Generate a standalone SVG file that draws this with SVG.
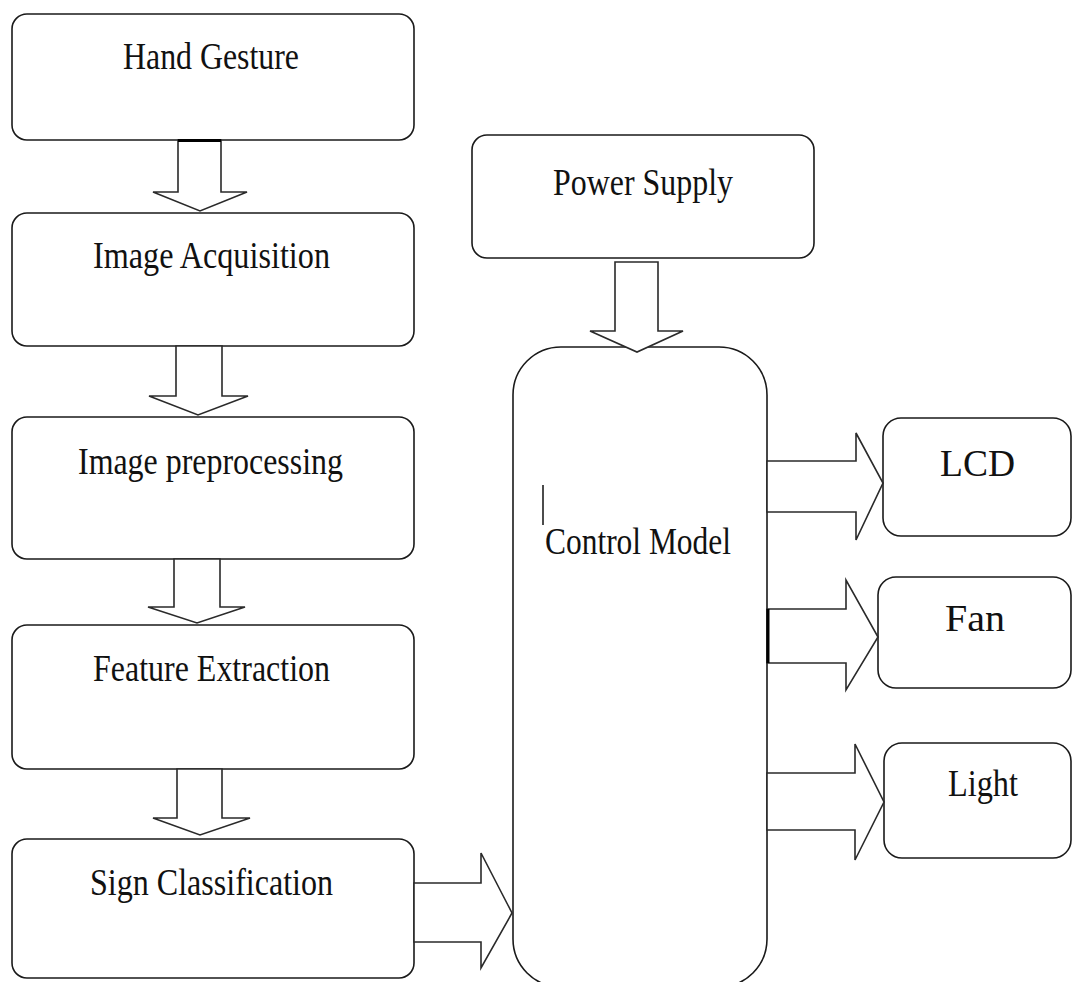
<svg xmlns="http://www.w3.org/2000/svg" width="1073" height="982" viewBox="0 0 1073 982">
  <style>
    .box { fill: #ffffff; stroke: #1a1a1a; stroke-width: 1.6; }
    .arrow { fill: #ffffff; stroke: #2a2a2a; stroke-width: 1.6; stroke-linejoin: miter; }
    .lbl { font-family: "Liberation Serif", "Times New Roman", serif; font-size: 38px; fill: #111111; }
  </style>
  <rect x="0" y="0" width="1073" height="982" fill="#ffffff"/>

  <g id="node-hand-gesture">
    <rect class="box" x="12" y="14" width="402" height="126" rx="15"/>
    <text class="lbl" x="123" y="69" textLength="176" lengthAdjust="spacingAndGlyphs">Hand Gesture</text>
  </g>
  <g id="node-image-acquisition">
    <rect class="box" x="12" y="213" width="402" height="133" rx="15"/>
    <text class="lbl" x="93" y="268" textLength="237" lengthAdjust="spacingAndGlyphs">Image Acquisition</text>
  </g>
  <g id="node-image-preprocessing">
    <rect class="box" x="12" y="417" width="402" height="142" rx="15"/>
    <text class="lbl" x="78" y="474" textLength="265" lengthAdjust="spacingAndGlyphs">Image preprocessing</text>
  </g>
  <g id="node-feature-extraction">
    <rect class="box" x="12" y="625" width="402" height="144" rx="15"/>
    <text class="lbl" x="93" y="681" textLength="237" lengthAdjust="spacingAndGlyphs">Feature Extraction</text>
  </g>
  <g id="node-sign-classification">
    <rect class="box" x="12" y="839" width="402" height="139" rx="15"/>
    <text class="lbl" x="90" y="895" textLength="243" lengthAdjust="spacingAndGlyphs">Sign Classification</text>
  </g>
  <g id="node-power-supply">
    <rect class="box" x="472" y="135" width="342" height="123" rx="15"/>
    <text class="lbl" x="553" y="195" textLength="180" lengthAdjust="spacingAndGlyphs">Power Supply</text>
  </g>
  <g id="node-control-model">
    <rect class="box" x="513" y="347" width="254" height="640" rx="48"/>
    <line x1="543" y1="485" x2="543" y2="525" stroke="#111111" stroke-width="1.5"/>
    <text class="lbl" x="545" y="554" textLength="186" lengthAdjust="spacingAndGlyphs">Control Model</text>
  </g>
  <g id="node-lcd">
    <rect class="box" x="883" y="418" width="188" height="118" rx="18"/>
    <text class="lbl" x="940" y="476" textLength="75" lengthAdjust="spacingAndGlyphs">LCD</text>
  </g>
  <g id="node-fan">
    <rect class="box" x="878" y="577" width="193" height="111" rx="18"/>
    <text class="lbl" x="945" y="631" textLength="60" lengthAdjust="spacingAndGlyphs">Fan</text>
  </g>
  <g id="node-light">
    <rect class="box" x="884" y="743" width="187" height="115" rx="18"/>
    <text class="lbl" x="948" y="796" textLength="70" lengthAdjust="spacingAndGlyphs">Light</text>
  </g>

  <g id="connectors">
    <polygon class="arrow" points="178,140 221,140 221,192 247,192 200,211 153,192 178,192"/>
    <line x1="178" y1="140.5" x2="221" y2="140.5" stroke="#000" stroke-width="3"/>
    <polygon class="arrow" points="176,346 222,346 222,396 248,396 198,415 149,396 176,396"/>
    <polygon class="arrow" points="174,559 220,559 220,607 245,607 197,623 148,607 174,607"/>
    <polygon class="arrow" points="177,769 222,769 222,818 250,818 200,835 153,818 177,818"/>
    <polygon class="arrow" points="615,262 658,262 658,331 683,331 637,352 590,331 615,331"/>
    <polygon class="arrow" points="414,883 481,883 481,853 512,913 481,968 481,942 414,942"/>
    <polygon class="arrow" points="767,461 856,461 856,433 883,483 856,540 856,512 767,512"/>
    <polygon class="arrow" points="767,609 846,609 846,580 878,637 846,690 846,663 767,663"/>
    <line x1="768" y1="609" x2="768" y2="663" stroke="#000" stroke-width="3"/>
    <polygon class="arrow" points="767,773 855,773 855,744 884,802 855,860 855,830 767,830"/>
  </g>
</svg>
